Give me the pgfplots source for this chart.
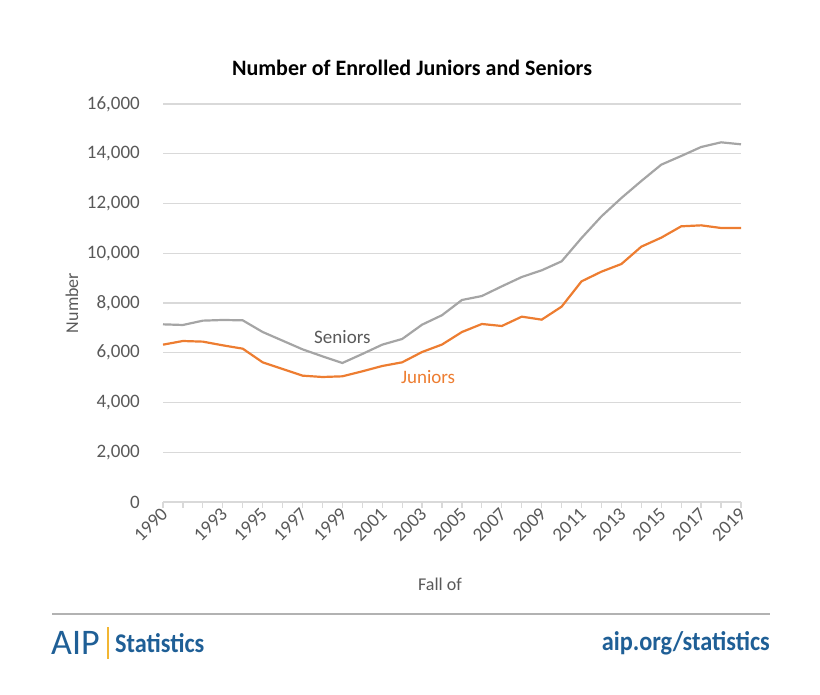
\documentclass[border=0pt]{standalone}
\usepackage{pgfplots}
\pgfplotsset{compat=1.18}
\usepackage{fontspec}
\setmainfont{Carlito}
\definecolor{sen}{HTML}{A5A5A5}
\definecolor{jun}{HTML}{ED7D31}
\definecolor{txt}{HTML}{595959}
\definecolor{grd}{HTML}{D9D9D9}
\definecolor{aipblue}{HTML}{1F5F96}
\definecolor{aipyel}{HTML}{F2B632}
\pgfplotstableread{
year seniors juniors
1990 7142 6325
1991 7116 6472
1992 7290 6446
1993 7317 6298
1994 7303 6164
1995 6834 5615
1996 6486 5347
1997 6137 5079
1998 5856 5025
1999 5588 5052
2000 5950 5253
2001 6325 5467
2002 6553 5615
2003 7129 6030
2004 7510 6330
2005 8121 6834
2006 8281 7156
2007 8670 7075
2008 9045 7451
2009 9313 7330
2010 9675 7853
2011 10613 8871
2012 11484 9260
2013 12221 9568
2014 12905 10265
2015 13561 10627
2016 13910 11082
2017 14271 11122
2018 14459 11015
2019 14379 11015
}\datatable
\begin{document}
\begin{tikzpicture}[x=1pt,y=1pt]
\path[use as bounding box] (0,0) rectangle (820,695);
\begin{axis}[
  at={(163pt,193pt)}, anchor=south west,
  scale only axis, width=578pt, height=398pt,
  xmin=1990, xmax=2019, ymin=0, ymax=16000,
  enlargelimits=false,
  scaled y ticks=false,
  axis x line*=bottom, axis y line*=left,
  y axis line style={draw=none},
  x axis line style={draw=grd, line width=1.2pt},
  ytick={0,2000,...,16000},
  ytick style={draw=none},
  ymajorgrids, grid style={draw=grd, line width=1.2pt},
  xtick={1990,1993,1995,1997,1999,2001,2003,2005,2007,2009,2011,2013,2015,2017,2019},
  xticklabels={1990,1993,1995,1997,1999,2001,2003,2005,2007,2009,2011,2013,2015,2017,2019},
  minor xtick={1990,...,2019},
  tick align=outside,
  major tick length=6pt, minor tick length=6pt,
  xtick style={draw=grd, line width=1.2pt},
  minor x tick style={draw=grd, line width=1.2pt},
  every tick label/.append style={font=\fontsize{19}{20}\selectfont, text=txt},
  xticklabel style={rotate=45, anchor=east, inner sep=1pt, yshift=-3pt},
  yticklabel style={inner sep=1pt, xshift=-16pt},
  /pgf/number format/assume math mode=true,
  /pgf/number format/1000 sep={,},
  clip=false,
]
\addplot[sen, line width=2.2pt] table[x=year,y=seniors] {\datatable};
\addplot[jun, line width=2.2pt] table[x=year,y=juniors] {\datatable};
\node[text=txt, font=\fontsize{19}{21}\selectfont] at (axis cs:1999,6633) {Seniors};
\node[text=jun, font=\fontsize{19}{21}\selectfont] at (axis cs:2003.3,5025) {Juniors};
\end{axis}
\node[font=\bfseries\fontsize{22}{24}\selectfont] at (412,627) {Number of Enrolled Juniors and Seniors};
\node[rotate=90, text=txt, font=\fontsize{18}{20}\selectfont] at (72,392) {Number};
\node[text=txt, font=\fontsize{18}{20}\selectfont] at (440,111) {Fall of};
\draw[color=black!30, line width=2pt] (52,81) -- (770,81);
\node[anchor=west, text=aipblue, font=\fontsize{36}{38}\selectfont, inner sep=0pt] at (51,52) {AIP};
\draw[aipyel, line width=1.5pt] (108,36) -- (108,68);
\node[anchor=west, text=aipblue, font=\bfseries\fontsize{27}{29}\selectfont, inner sep=0pt, xscale=0.9] at (115,52) {Statistics};
\node[anchor=east, text=aipblue, font=\bfseries\fontsize{27}{29}\selectfont, inner sep=0pt, xscale=0.9] at (770,52) {aip.org/statistics};
\end{tikzpicture}
\end{document}
